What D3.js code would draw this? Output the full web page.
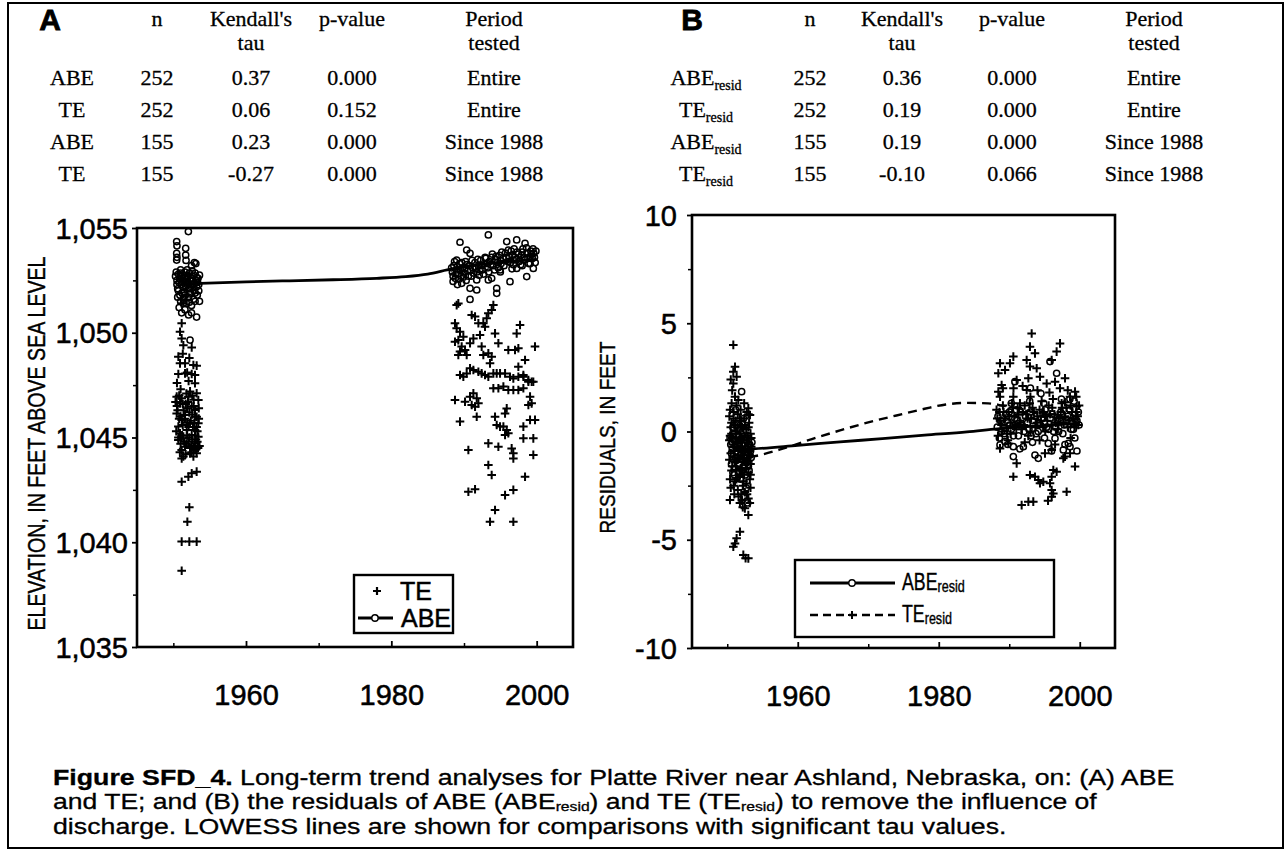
<!DOCTYPE html>
<html><head><meta charset="utf-8">
<script src="https://cdn.jsdelivr.net/npm/d3@7"></script>
<style>body{margin:0;background:#fff}svg{display:block}</style>
</head><body><svg id="c" width="1287" height="852"></svg>
<script>
// ---------------- DATA ----------------
const tableHeadA = ["n", "Kendall's", "p-value", "Period"];
const tableHead2 = ["", "tau", "", "tested"];
const rowsA = [
  ["ABE", "252", "0.37", "0.000", "Entire"],
  ["TE", "252", "0.06", "0.152", "Entire"],
  ["ABE", "155", "0.23", "0.000", "Since 1988"],
  ["TE", "155", "-0.27", "0.000", "Since 1988"]
];
const rowsB = [
  ["ABE", "252", "0.36", "0.000", "Entire"],
  ["TE", "252", "0.19", "0.000", "Entire"],
  ["ABE", "155", "0.19", "0.000", "Since 1988"],
  ["TE", "155", "-0.10", "0.066", "Since 1988"]
];
const xTicks = [1960, 1980, 2000];
const xMinorTicks = [1950, 1970, 1990];
const yTicksA = [1035, 1040, 1045, 1050, 1055];
const yTickLabelsA = ["1,035", "1,040", "1,045", "1,050", "1,055"];
const yMinorA = [1037.5, 1042.5, 1047.5, 1052.5];
const yTicksB = [-10, -5, 0, 5, 10];
const yTickLabelsB = ["-10", "-5", "0", "5", "10"];
const yMinorB = [-7.5, -2.5, 2.5, 7.5];

// Panel A: TE (elevation, ft) [year, value]
const teA = [
 [1951.15,1051.4],[1951.84,1051.56],[1951.15,1050.45],[1950.92,1050.05],[1951.15,1049.73],[1951.38,1049.4],[1952.53,1049.3],
 [1950.69,1048.86],[1950.92,1048.54],[1951.61,1048.54],[1952.76,1048.46],[1953.21,1048.43],[1950.69,1048.03],[1951.61,1048.06],
 [1952.53,1048.03],[1952.98,1047.98],[1952.98,1047.59],
 [1950.46,1046.95],[1951.15,1046.87],[1952.07,1046.95],[1953.21,1047.11],[1953.44,1046.79],[1950.92,1046.63],[1952.53,1046.47],
 [1952.98,1046.31],[1950.46,1046.15],[1951.61,1046.07],[1953.21,1045.99],[1951.15,1045.84],[1952.3,1045.68],[1953.44,1045.68],
 [1950.69,1045.52],[1951.84,1045.36],[1952.98,1045.36],[1950.92,1045.2],[1952.53,1045.12],[1953.44,1045.04],[1951.38,1044.96],
 [1952.07,1044.8],[1952.98,1044.72],[1950.69,1044.88],[1951.61,1044.56],[1952.76,1044.48],[1953.21,1044.25],[1951.15,1044.4],
 [1952.3,1044.25],[1952.76,1044.09],[1951.38,1044.09],
 [1950.5,1046.5],[1951.4,1046.3],[1952.2,1046.2],[1953.0,1046.0],[1950.8,1045.9],[1951.9,1045.7],[1952.7,1045.5],[1953.3,1045.3],
 [1951.2,1045.1],[1952.2,1045.0],[1953.1,1044.9],[1951.8,1044.7],[1952.5,1044.6],[1953.4,1044.5],[1951.0,1047.3],[1952.3,1047.2],
 [1952.8,1046.8],[1951.7,1046.6],
 [1950.3,1046.7],[1950.6,1046.3],[1951.0,1046.0],[1951.3,1045.6],[1951.6,1045.9],[1951.9,1046.4],[1952.1,1045.5],[1952.4,1045.8],
 [1952.6,1046.1],[1952.9,1045.7],[1953.2,1045.5],[1953.5,1045.9],[1950.4,1045.3],[1950.7,1045.0],[1951.0,1044.7],[1951.5,1044.8],
 [1951.9,1045.1],[1952.3,1044.5],[1952.6,1044.9],[1953.0,1045.1],[1953.3,1044.8],[1953.6,1044.6],[1950.9,1044.3],[1951.7,1044.2],
 [1952.5,1044.3],[1953.0,1044.4],[1951.3,1046.6],[1952.0,1046.7],[1952.8,1046.5],[1953.5,1046.4],[1950.8,1047.0],[1951.8,1047.1],
 [1952.6,1047.0],[1950.5,1047.6],[1951.9,1048.1],[1952.2,1048.8],[1951.3,1049.0],[1952.1,1047.7],
 [1951.15,1044.0],[1951.15,1042.89],[1952.07,1043.13],[1952.53,1043.29],[1953.21,1043.37],[1952.2,1041.67],[1951.93,1040.98],
 [1951.15,1040.03],[1952.2,1040.03],[1953.21,1040.03],[1951.15,1038.64],
 [1988.99,1051.32],[1989.22,1051.4],[1988.76,1050.45],[1988.99,1050.21],[1989.45,1050.05],[1989.91,1049.81],[1989.22,1049.65],
 [1988.76,1049.57],[1989.68,1049.34],[1990.14,1049.18],[1989.45,1049.1],[1990.37,1048.94],[1989.22,1048.94],[1991.06,1050.85],
 [1991.52,1050.77],[1991.98,1050.45],[1992.66,1050.45],[1993.12,1050.69],[1993.35,1050.93],[1993.81,1051.09],[1994.04,1051.32],
 [1992.89,1050.29],[1992.2,1049.89],[1991.29,1049.73],[1990.83,1049.5],[1992.43,1049.34],[1992.66,1048.94],[1993.35,1049.02],
 [1993.81,1048.86],[1993.58,1048.54],[1994.27,1049.97],[1994.73,1049.5],[1996.1,1049.18],[1997.02,1049.18],[1997.48,1049.26],
 [1997.25,1049.97],[1997.71,1050.37],[1998.4,1048.7],[1999.77,1049.34],[1997.48,1048.38],[1998.17,1047.98],[1998.86,1047.66],
 [1999.54,1047.66],
 [1989.45,1047.98],[1989.91,1047.9],[1990.37,1048.06],[1990.83,1048.3],[1991.29,1048.22],[1991.98,1048.14],[1992.43,1048.06],
 [1992.89,1047.98],[1993.35,1047.9],[1994.04,1048.06],[1994.5,1048.06],[1994.96,1048.06],[1995.65,1048.06],[1996.33,1047.9],
 [1996.79,1047.82],[1997.48,1047.9],[1998.17,1047.9],[1998.86,1047.74],[1999.31,1047.66],
 [1994.04,1047.35],[1994.73,1047.35],[1995.42,1047.43],[1996.1,1047.27],[1996.79,1047.27],[1997.48,1047.27],[1998.17,1047.35],
 [1988.76,1046.79],[1990.14,1046.71],[1990.83,1046.95],[1991.29,1047.11],[1991.75,1046.87],[1991.98,1046.63],[1991.06,1046.55],
 [1991.52,1046.47],[1991.75,1045.99],[1989.45,1045.76],[1994.27,1045.99],[1995.88,1046.39],[1995.65,1046.15],[1999.09,1046.95],
 [1999.31,1046.63],[1998.86,1046.55],
 [1994.5,1045.6],[1994.96,1045.52],[1995.42,1045.52],[1995.88,1045.36],[1996.1,1045.2],[1995.65,1045.12],[1999.09,1045.84],
 [1999.77,1045.84],[1998.17,1045.52],[1998.17,1044.96],[1999.54,1044.96],[1993.35,1044.72],[1994.73,1044.56],[1996.56,1044.48],
 [1996.79,1044.25],[1996.79,1044.0],[1999.54,1044.17],[1990.6,1044.4],[1993.35,1043.69],[1993.81,1043.21],[1998.4,1043.13],
 [1990.6,1042.41],[1991.52,1042.53],[1995.65,1042.25],[1996.79,1042.5],[1994.27,1041.54],[1993.58,1040.98],[1996.79,1040.98]
];

// Panel A: ABE (elevation, ft) [year, value]
const abeA = [
 [1952.07,1054.83],[1950.46,1054.35],[1950.5,1054.15],[1950.46,1053.79],[1950.5,1053.6],[1950.46,1053.47],[1951.7,1054.03],
 [1951.7,1053.71],[1951.75,1053.45],[1952.9,1053.35],[1953.1,1053.3],[1952.5,1053.2],
 [1950.4,1052.9],[1950.7,1052.8],[1951.0,1052.85],[1951.3,1052.75],[1951.6,1052.9],[1951.9,1052.7],[1952.2,1052.85],[1952.5,1052.6],
 [1952.8,1052.75],[1953.1,1052.5],[1953.4,1052.6],[1950.5,1052.5],[1950.8,1052.4],[1951.1,1052.3],[1951.4,1052.5],[1951.7,1052.2],
 [1952.0,1052.4],[1952.3,1052.1],[1952.6,1052.3],[1952.9,1052.0],[1953.2,1052.2],[1953.5,1052.0],[1950.6,1052.1],[1951.2,1051.9],
 [1951.6,1051.8],[1952.1,1051.7],[1952.4,1051.9],[1952.8,1051.6],[1953.3,1051.8],[1953.6,1051.5],[1951.0,1051.5],[1951.8,1051.4],
 [1952.5,1051.3],[1950.9,1052.6],[1951.5,1052.6],[1952.0,1052.65],[1952.7,1052.5],[1953.0,1052.85],
 [1950.3,1052.7],[1950.5,1052.3],[1950.7,1052.0],[1950.9,1051.8],[1951.1,1052.7],[1951.2,1052.45],[1951.4,1052.15],[1951.5,1051.95],
 [1951.8,1052.55],[1951.9,1052.3],[1952.1,1052.1],[1952.2,1051.85],[1952.4,1052.6],[1952.5,1052.45],[1952.7,1052.15],[1952.9,1052.35],
 [1953.0,1051.9],[1953.2,1052.65],[1953.3,1052.4],[1953.5,1052.3],[1953.6,1052.75],[1951.0,1053.0],[1951.9,1053.0],[1952.6,1052.95],
 [1950.6,1051.7],[1951.4,1051.6],[1952.2,1051.45],[1953.0,1051.5],
 [1951.38,1051.4],[1951.15,1050.95],[1951.6,1051.1],[1952.1,1050.85],[1952.5,1050.95],[1953.2,1050.75],[1950.8,1051.2],[1952.3,1049.65],
 [1993.35,1054.67],[1989.45,1054.32],[1997.25,1054.43],[1995.88,1054.35],[1998.4,1054.27],[1990.37,1053.95],[1990.83,1053.79],
 [1988.99,1053.47],[1989.68,1052.36],[1990.83,1052.12],[1991.75,1052.04],[1990.83,1051.59],[1994.5,1052.12],[1994.5,1051.88],
 [1996.33,1052.44],[1993.81,1052.6],[1993.35,1052.52],[1998.63,1052.68],[1999.54,1053.07],[1991.75,1052.52],[1994.96,1053.0],
 [1997.25,1053.07],[1999.09,1053.63],[1996.79,1053.47],
 [1988.4,1052.9],[1988.6,1053.2],[1988.8,1052.6],[1989.0,1053.0],[1989.2,1052.8],[1989.4,1053.3],[1989.6,1052.7],[1989.8,1053.1],
 [1990.0,1052.85],[1990.2,1053.4],[1990.5,1052.95],[1990.7,1053.2],[1991.0,1052.7],[1991.2,1053.1],[1991.5,1053.35],[1991.8,1052.9],
 [1992.0,1053.2],[1992.3,1053.45],[1992.5,1053.0],[1992.8,1053.3],[1993.0,1053.55],[1993.3,1053.1],[1993.5,1053.4],[1993.8,1053.6],
 [1994.0,1053.2],[1994.3,1053.5],[1994.6,1053.35],[1994.9,1053.7],[1995.1,1053.3],[1995.4,1053.55],[1995.7,1053.8],[1996.0,1053.4],
 [1996.2,1053.65],[1996.5,1053.9],[1996.8,1053.25],[1997.0,1053.6],[1997.3,1053.85],[1997.6,1053.4],[1997.9,1053.7],[1998.1,1054.0],
 [1998.4,1053.5],[1998.7,1053.8],[1998.9,1053.3],[1999.2,1053.9],[1999.4,1053.55],[1999.6,1053.8],[1999.8,1053.35],[1988.5,1052.45],
 [1989.1,1052.3],[1990.3,1052.5],[1992.1,1052.75],[1995.0,1052.9],[1996.6,1053.05],[1998.0,1053.2],
 [1988.3,1053.1],[1988.5,1052.7],[1988.7,1053.4],[1988.9,1052.8],[1989.1,1053.15],[1989.3,1052.55],[1989.5,1053.0],[1989.7,1053.35],
 [1989.9,1052.65],[1990.1,1053.05],[1990.4,1053.25],[1990.6,1052.7],[1990.9,1053.0],[1991.1,1053.45],[1991.3,1052.85],[1991.6,1053.05],
 [1991.9,1053.5],[1992.2,1053.0],[1992.4,1053.2],[1992.7,1052.8],[1992.9,1053.6],[1993.2,1053.3],[1993.4,1052.9],[1993.7,1053.25],
 [1993.9,1053.75],[1994.2,1053.0],[1994.4,1053.65],[1994.7,1053.1],[1995.0,1053.45],[1995.2,1053.85],[1995.5,1053.2],[1995.8,1053.6],
 [1996.1,1053.95],[1996.4,1053.35],[1996.7,1053.7],[1996.9,1054.0],[1997.2,1053.5],[1997.5,1053.75],[1997.8,1053.25],[1998.0,1053.85],
 [1998.3,1053.6],[1998.6,1054.05],[1998.8,1053.55],[1999.1,1053.3],[1999.3,1053.75],[1999.5,1054.0],[1999.7,1053.6],[1999.9,1053.9]
];
const lowessAbeA = [[1951,1052.33],[1953.7,1052.36],[1960,1052.43],[1966,1052.48],[1972,1052.53],[1978,1052.6],[1982,1052.68],
 [1985,1052.8],[1988.3,1053.05],[1991,1053.2],[1994,1053.32],[1997,1053.42],[2000,1053.5]];

// Panel B: TE residuals (ft)
const teResidB = [
 [1950.86,4.0],[1951.1,2.99],[1950.86,2.76],[1951.33,2.53],[1950.86,2.22],[1951.1,1.61],[1952.99,1.07],[1953.22,0.76],[1950.62,1.3],
 [1951.57,1.45],[1952.75,0.9],
 [1950.4,1.0],[1950.9,0.6],[1951.5,0.8],[1952.0,0.5],[1952.5,0.3],[1953.1,0.4],[1950.5,0.2],[1951.2,0.0],[1951.8,-0.1],[1952.3,0.1],
 [1952.9,-0.2],[1953.4,-0.3],[1950.3,-0.4],[1950.8,-0.6],[1951.4,-0.5],[1952.0,-0.8],[1952.6,-0.7],[1953.2,-0.9],[1950.5,-1.0],
 [1951.0,-1.2],[1951.6,-1.1],[1952.2,-1.4],[1952.8,-1.3],[1953.3,-1.5],[1950.7,-1.6],[1951.3,-1.8],[1951.9,-1.7],[1952.4,-2.0],
 [1953.0,-1.9],[1950.4,-2.2],[1951.1,-2.3],[1951.7,-2.1],[1952.2,-2.5],[1952.7,-2.4],[1953.2,-2.2],[1951.5,-2.7],[1952.0,-2.9],
 [1952.5,-2.8],[1953.0,-3.1],[1950.39,-3.16],[1951.8,-3.3],[1952.5,-3.55],[1952.99,-3.86],[1952.2,-3.5],[1951.2,-0.3],[1952.1,-0.4],
 [1950.6,-0.1],[1951.9,0.3],[1953.0,-0.6],[1952.4,-1.1],[1951.3,-1.4],
 [1950.3,0.7],[1950.6,0.4],[1950.9,0.9],[1951.2,0.5],[1951.5,0.2],[1951.8,0.6],[1952.1,0.2],[1952.4,0.6],[1952.7,0.1],[1953.0,0.2],
 [1953.3,-0.1],[1950.4,-0.2],[1950.7,-0.3],[1951.0,-0.7],[1951.3,-0.1],[1951.6,-0.8],[1951.9,-0.4],[1952.2,-0.9],[1952.5,-0.2],
 [1952.8,-0.5],[1953.1,-1.1],[1953.4,-0.7],[1950.3,-1.3],[1950.6,-1.8],[1950.9,-0.9],[1951.2,-1.6],[1951.5,-1.3],[1951.8,-2.0],
 [1952.1,-1.8],[1952.4,-1.4],[1952.7,-1.7],[1953.0,-1.4],[1953.3,-2.0],[1950.5,-2.6],[1950.9,-2.5],[1951.3,-2.2],[1951.6,-3.0],
 [1952.3,-2.3],[1952.8,-2.9],[1953.3,-2.6],[1951.0,-2.9],[1952.1,-3.2],[1953.2,-3.3],[1950.7,1.9],[1951.3,1.2],[1951.9,1.0],
 [1952.4,1.3],[1950.5,2.4],[1951.0,0.3],[1953.0,0.8],
 [1951.8,-4.63],[1951.33,-4.93],[1951.1,-5.17],[1950.86,-5.32],[1952.28,-5.7],[1952.99,-5.86],[1952.6,-5.85],
 [1993.18,4.53],[1992.94,3.92],[1993.65,3.61],[1997.2,4.07],[1996.72,3.69],[1996.02,3.3],[1990.58,3.46],[1990.1,3.15],[1988.69,3.15],
 [1989.4,2.84],[1988.45,2.69],[1992.47,3.3],[1992.94,3.0],[1993.89,2.92],[1994.36,2.53],[1992.71,2.46],[1991.05,2.38],[1988.92,2.15],
 [1988.45,1.84],[1988.69,1.61],[1990.58,1.61],[1991.52,1.3],[1992.47,1.92],[1995.31,2.22],[1996.49,2.3],[1997.91,2.46],[1999.33,1.84],
 [1998.62,1.61],[1997.43,1.3],[1999.56,1.15],
 [1988.2,1.0],[1988.7,0.5],[1989.2,0.9],[1989.6,0.2],[1990.0,0.7],[1990.5,1.1],[1990.9,0.3],[1991.3,0.8],[1991.8,0.1],[1992.2,1.2],
 [1992.6,0.6],[1993.0,0.0],[1993.5,0.9],[1993.9,0.4],[1994.3,1.0],[1994.8,0.2],[1995.2,0.7],[1995.6,1.2],[1996.0,0.3],[1996.4,0.8],
 [1996.9,0.1],[1997.3,0.9],[1997.7,0.4],[1998.1,1.1],[1998.5,0.5],[1998.9,0.9],[1999.3,0.2],[1999.7,0.7],[1999.9,1.2],[1988.4,-0.2],
 [1989.0,0.0],[1990.2,-0.1],[1991.6,0.4],[1992.9,1.3],[1994.6,1.4],[1996.2,1.5],[1997.9,1.35],[1999.5,1.6],
 [1988.3,0.6],[1988.6,0.9],[1988.9,0.3],[1989.1,1.2],[1989.4,0.6],[1989.7,-0.1],[1989.9,0.9],[1990.2,0.4],[1990.4,1.3],[1990.7,0.7],
 [1991.0,0.1],[1991.2,1.1],[1991.5,0.5],[1991.9,0.9],[1992.1,0.3],[1992.4,0.8],[1992.7,-0.2],[1993.1,0.6],[1993.3,1.1],[1993.7,0.2],
 [1994.0,0.7],[1994.5,0.5],[1994.9,0.9],[1995.1,0.0],[1995.4,0.5],[1995.8,0.8],[1996.1,1.1],[1996.6,0.4],[1997.0,0.6],[1997.5,1.1],
 [1997.9,0.7],[1998.3,0.2],[1998.7,1.2],[1999.1,0.6],[1999.5,0.9],[1999.8,0.3],[1990.6,2.0],[1991.9,2.1],[1994.0,1.9],[1995.7,1.8],
 [1997.2,2.0],[1998.3,1.9],[1989.1,2.0],[1993.0,1.6],[1989.8,-0.4],[1992.2,-0.5],[1994.3,-0.4],[1996.5,-0.6],[1998.7,-0.3],
 [1988.69,-0.78],[1989.87,-0.55],[1991.05,-1.47],[1995.07,-1.01],[1996.02,-0.85],[1997.91,-1.16],[1997.67,-1.24],[1999.33,-1.62],
 [1998.62,-1.01],[1990.58,-2.09],[1992.94,-2.01],[1993.65,-2.09],[1994.12,-2.24],[1994.36,-2.39],[1994.83,-2.32],[1995.78,-2.39],
 [1996.25,-1.78],[1996.02,-2.09],[1996.72,-1.86],[1996.25,-2.86],[1996.02,-3.01],[1998.14,-2.78],[1993.41,-3.24],[1991.76,-3.4],
 [1992.71,-3.24],[1995.5,-3.2],[1996.02,-2.7]
];
// Panel B: ABE residuals (ft)
const abeResidB = [
 [1952.04,1.84],[1951.2,1.0],[1952.3,0.6],[1950.8,0.2],[1951.6,-0.2],[1952.5,-0.4],[1953.2,-0.6],[1950.5,-0.6],[1951.3,-0.9],
 [1952.0,-1.0],[1952.8,-1.1],[1953.4,-1.2],[1950.9,-1.3],[1951.7,-1.5],[1952.4,-1.6],[1953.1,-1.8],[1951.0,-2.0],[1951.9,-2.2],
 [1952.7,-2.6],[1952.3,-3.0],[1953.0,-0.2],[1951.4,0.3],[1950.6,-1.0],[1952.1,-0.6],[1953.3,-0.9],[1950.8,-1.9],[1952.6,-2.0],
 [1952.9,-3.3],[1951.5,-0.6],[1952.2,-1.3],
 [1950.4,-0.3],[1950.7,-0.8],[1951.0,-0.4],[1951.2,-1.2],[1951.5,-1.0],[1951.8,-0.7],[1952.0,-1.3],[1952.3,-0.9],[1952.6,-0.8],
 [1952.9,-1.4],[1953.2,-1.1],[1953.5,-0.5],[1950.6,-1.5],[1951.1,-1.7],[1951.6,-1.9],[1952.1,-1.8],[1952.5,-1.2],[1953.0,-1.6],
 [1951.4,-0.4],[1952.0,-0.3],[1952.7,-0.3],[1951.8,0.1],[1950.9,-0.1],
 [1995.78,3.23],[1996.72,2.69],[1990.8,2.3],[1993.0,2.0],[1994.5,1.75],[1998.6,1.5],
 [1988.69,-0.62],[1989.4,-0.47],[1990.58,-0.7],[1990.58,-1.16],[1992.0,-0.7],[1993.65,-1.09],[1994.12,-1.24],[1995.54,-0.55],
 [1996.49,-0.32],[1998.38,-0.55],[1997.67,-0.85],[1998.62,-0.7],[1999.9,0.3],[1999.3,-0.3],
 [1988.3,0.2],[1988.8,0.5],[1989.3,-0.1],[1989.8,0.4],[1990.3,0.1],[1990.8,0.6],[1991.3,-0.2],[1991.8,0.3],[1992.3,0.7],[1992.8,0.1],
 [1993.3,0.5],[1993.8,-0.1],[1994.3,0.4],[1994.8,0.8],[1995.3,0.2],[1995.8,0.6],[1996.3,0.0],[1996.8,0.5],[1997.3,0.9],[1997.8,0.3],
 [1998.3,0.7],[1998.8,0.1],[1999.3,0.6],[1999.8,0.9],[1988.6,-0.3],[1990.0,0.9],[1991.0,1.0],[1993.0,0.9],[1995.0,-0.3],[1997.0,0.0],
 [1999.0,0.4],
 [1988.4,0.7],[1988.9,0.0],[1989.5,0.8],[1990.1,0.3],[1990.6,-0.2],[1991.1,0.5],[1991.6,0.9],[1992.1,0.0],[1992.6,0.4],[1993.1,-0.2],
 [1993.6,0.7],[1994.1,0.0],[1994.6,0.6],[1995.1,1.0],[1995.6,0.1],[1996.1,0.8],[1996.6,0.2],[1997.1,0.6],[1997.6,-0.1],[1998.1,0.5],
 [1998.6,1.0],[1999.1,0.1],[1999.6,0.5],[1989.8,-0.6],[1991.5,-0.8],[1993.3,-0.5],[1996.0,-0.9],[1997.9,-0.6],[1999.6,-0.9],
 [1990.3,1.3],[1992.9,1.4],[1994.9,1.3],[1997.4,1.5],[1999.2,1.4]
];
const lowessAbeB = [[1951,-0.82],[1953.7,-0.8],[1960,-0.64],[1966,-0.48],[1972,-0.33],[1978,-0.17],[1984,-0.02],[1988.3,0.12],
 [1992,0.22],[1996,0.3],[2000,0.38]];
const lowessTeB = [[1951,-1.25],[1953.7,-1.15],[1958,-0.78],[1962,-0.35],[1966,0.05],[1970,0.42],[1974,0.74],[1978,1.05],
 [1981,1.25],[1984,1.32],[1987,1.3],[1989,1.2],[1992,1.0],[1995,0.8],[2000,0.55]];

const captionLines = [
  [{t:"Figure SFD_4.", b:true}, {t:" Long-term trend analyses for Platte River near Ashland, Nebraska, on: (A) ABE"}],
  [{t:"and TE; and (B) the residuals of ABE (ABE"}, {t:"resid", sub:true}, {t:") and TE (TE"}, {t:"resid", sub:true}, {t:") to remove the influence of"}],
  [{t:"discharge. LOWESS lines are shown for comparisons with significant tau values."}]
];

// ---------------- DRAW ----------------
const svg = d3.select("#c");
const SANS = "'Liberation Sans', Arial, Helvetica, sans-serif";
const SERIF = "'Liberation Serif', 'Times New Roman', serif";

svg.append("rect").attr("width",1287).attr("height",852).attr("fill","#fff");
svg.append("rect").attr("x",8).attr("y",3).attr("width",1275).attr("height",845)
  .attr("fill","none").attr("stroke","#000").attr("stroke-width",2);

// Tables
function drawTable(letter, letterX, cols, rows, withSub) {
  const g = svg.append("g").attr("font-family", SERIF).attr("font-size", 22).attr("fill","#000")
    .attr("stroke","#000").attr("stroke-width",0.3);
  svg.append("text").attr("x", letterX).attr("y", 30).attr("font-family", SANS).attr("font-weight", 900)
    .attr("font-size", 30).attr("text-anchor","middle").attr("stroke","#000").attr("stroke-width",0.8).text(letter);
  const hy = [26, 50], ry = [85, 117, 149, 181];
  tableHeadA.forEach((h,i) => {
    g.append("text").attr("x", cols[i+1]).attr("y", hy[0]).attr("text-anchor","middle").text(h);
    if (tableHead2[i]) g.append("text").attr("x", cols[i+1]).attr("y", hy[1]).attr("text-anchor","middle").text(tableHead2[i]);
  });
  rows.forEach((r,ri) => {
    r.forEach((v,ci) => {
      const t = g.append("text").attr("x", cols[ci]).attr("y", ry[ri]).attr("text-anchor","middle");
      t.append("tspan").text(v);
      if (ci === 0 && withSub) t.append("tspan").attr("font-size", 14).attr("dy", 5).text("resid");
    });
  });
}
drawTable("A", 50, [72, 157, 251, 352, 494], rowsA, false);
drawTable("B", 692, [706, 810, 902, 1012, 1154], rowsB, true);

function plus(sel, x, y, s) {
  return sel.append("path").attr("d", `M${x-s},${y}H${x+s}M${x},${y-s}V${y+s}`);
}

function panel(x, y, yMaj, yLab, yMin, yPad, te, abe, lines, yTitle, yTitleX, yTitleLen, yTitleSize) {
  const g = svg.append("g");
  const [x0, x1] = x.range(), [y0, y1] = y.range();
  const ya = g.append("g").attr("transform", `translate(${x0},0)`)
    .call(d3.axisLeft(y).tickValues(yMaj).tickFormat((d,i)=>yLab[i]).tickSize(5).tickPadding(yPad));
  ya.select(".domain").remove();
  ya.selectAll("line").attr("stroke-width", 1.8);
  ya.selectAll("text").attr("font-family", SANS).attr("font-size", 29).attr("dy","0.35em")
    .attr("stroke","#000").attr("stroke-width",0.5);
  const ym = g.append("g").attr("transform", `translate(${x0},0)`)
    .call(d3.axisLeft(y).tickValues(yMin).tickFormat("").tickSize(4));
  ym.select(".domain").remove();
  ym.selectAll("line").attr("stroke-width", 1.5);
  const xa = g.append("g").attr("transform", `translate(0,${y0})`)
    .call(d3.axisBottom(x).tickValues(xTicks).tickFormat(d3.format("d")).tickSize(-6).tickPadding(37));
  xa.select(".domain").remove();
  xa.selectAll("line").attr("stroke-width", 1.8);
  xa.selectAll("text").attr("font-family", SANS).attr("font-size", 29).attr("stroke","#000").attr("stroke-width",0.5);
  const xm = g.append("g").attr("transform", `translate(0,${y0})`)
    .call(d3.axisBottom(x).tickValues(xMinorTicks).tickFormat("").tickSize(-4));
  xm.select(".domain").remove();
  xm.selectAll("line").attr("stroke-width", 1.5);
  // points
  const pg = g.append("g").attr("stroke","#000").attr("stroke-width",2).attr("fill","none");
  te.forEach(d => plus(pg, x(d[0]), y(d[1]), 4.3));
  const cg = g.append("g").attr("stroke","#000").attr("stroke-width",1.5).attr("fill","none");
  abe.forEach(d => cg.append("circle").attr("cx", x(d[0])).attr("cy", y(d[1])).attr("r", 3.1));
  // lines
  const line = d3.line().x(d=>x(d[0])).y(d=>y(d[1])).curve(d3.curveMonotoneX);
  lines.forEach(l => g.append("path").attr("d", line(l.data)).attr("fill","none").attr("stroke","#000")
    .attr("stroke-width", l.w).attr("stroke-dasharray", l.dash || null));
  // frame
  g.append("rect").attr("x", x0).attr("y", y1).attr("width", x1-x0).attr("height", y0-y1)
    .attr("fill","none").attr("stroke","#000").attr("stroke-width",2.6);
  // y title
  g.append("text").attr("transform", `translate(${yTitleX},${(y0+y1)/2+6}) rotate(-90)`)
    .attr("text-anchor","middle").attr("font-family", SANS).attr("font-size", yTitleSize)
    .attr("stroke","#000").attr("stroke-width",0.4)
    .attr("textLength", yTitleLen).attr("lengthAdjust","spacingAndGlyphs").text(yTitle);
  return g;
}

const xA = d3.scaleLinear().domain([1945, 2005]).range([137, 573]);
const yA = d3.scaleLinear().domain([1035, 1055]).range([647, 228]);
panel(xA, yA, yTicksA, yTickLabelsA, yMinorA, 4, teA, abeA,
  [{data: lowessAbeA, w: 2.8}], "ELEVATION, IN FEET ABOVE SEA LEVEL", 45, 374, 23);

const xB = d3.scaleLinear().domain([1945, 2005]).range([692, 1115]);
const yB = d3.scaleLinear().domain([-10, 10]).range([648, 215]);
panel(xB, yB, yTicksB, yTickLabelsB, yMinorB, 10, teResidB, abeResidB,
  [{data: lowessTeB, w: 2.4, dash: "9,6"}, {data: lowessAbeB, w: 2.8}], "RESIDUALS, IN FEET", 615, 192, 22);

// Legend A
const lA = svg.append("g");
lA.append("rect").attr("x",354).attr("y",575).attr("width",99).attr("height",58).attr("fill","#fff")
  .attr("stroke","#000").attr("stroke-width",2.4);
lA.append("g").attr("stroke","#000").attr("stroke-width",2.2).call(s => plus(s, 377, 591, 4));
lA.append("text").attr("x",400).attr("y",600).attr("font-family",SANS).attr("font-size",25)
  .attr("stroke","#000").attr("stroke-width",0.5).text("TE");
lA.append("line").attr("x1",358).attr("x2",393).attr("y1",618).attr("y2",618).attr("stroke","#000").attr("stroke-width",3);
lA.append("circle").attr("cx",375).attr("cy",618).attr("r",3.2).attr("fill","#fff").attr("stroke","#000").attr("stroke-width",1.4);
lA.append("text").attr("x",401).attr("y",627).attr("font-family",SANS).attr("font-size",25)
  .attr("stroke","#000").attr("stroke-width",0.5).text("ABE");

// Legend B
const lB = svg.append("g");
lB.append("rect").attr("x",795).attr("y",560).attr("width",259).attr("height",77).attr("fill","#fff")
  .attr("stroke","#000").attr("stroke-width",2.4);
lB.append("line").attr("x1",810).attr("x2",895).attr("y1",583).attr("y2",583).attr("stroke","#000").attr("stroke-width",3);
lB.append("circle").attr("cx",852).attr("cy",583).attr("r",3.2).attr("fill","#fff").attr("stroke","#000").attr("stroke-width",1.4);
lB.append("line").attr("x1",810).attr("x2",895).attr("y1",615).attr("y2",615).attr("stroke","#000").attr("stroke-width",2.4)
  .attr("stroke-dasharray","8,5");
lB.append("g").attr("stroke","#000").attr("stroke-width",2).call(s => plus(s, 852, 615, 4));
[["ABE",590],["TE",622]].forEach(([n,yy]) => {
  const t = lB.append("text").attr("transform", `translate(902,${yy}) scale(0.74,1)`).attr("font-family",SANS).attr("font-size",24)
    .attr("stroke","#000").attr("stroke-width",0.4);
  t.append("tspan").text(n);
  t.append("tspan").attr("font-size",17).attr("dy",2).text("resid");
});

// Caption
const capW = [1122, 1044, 954], capY = [785, 809, 834];
captionLines.forEach((parts, i) => {
  const t = svg.append("text").attr("x",0).attr("y",0).attr("font-family",SANS).attr("font-size",22)
    .attr("stroke","#000").attr("stroke-width",0.3);
  parts.forEach((p, j) => {
    const ts = t.append("tspan").text(p.t);
    if (p.b) ts.attr("font-weight","bold");
    if (p.sub) ts.attr("font-size",13).attr("dy",2);
    else if (j > 0 && parts[j-1].sub) ts.attr("dy",-2);
  });
  const w = t.node().getComputedTextLength();
  t.attr("transform", `translate(53,${capY[i]}) scale(${capW[i]/w},1)`);
});
</script></body></html>
